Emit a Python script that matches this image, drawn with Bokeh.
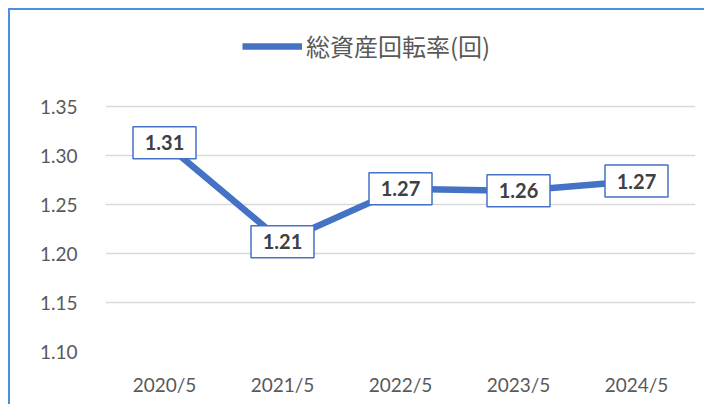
from bokeh.plotting import figure
from bokeh.models import (ColumnDataSource, FixedTicker, NumeralTickFormatter, Legend, LegendItem, Range1d)
from bokeh.core.properties import value
from bokeh.embed import file_html
from bokeh.resources import INLINE

# ---- data ----
periods = ["2020/5", "2021/5", "2022/5", "2023/5", "2024/5"]
turnover = [1.313, 1.212, 1.266, 1.264, 1.274]
y_ticks = [1.10, 1.15, 1.20, 1.25, 1.30, 1.35]
series_name = "総資産回転率(回)"

labels = [f"{v:.2f}" for v in turnover]
src = ColumnDataSource(dict(x=periods, y=turnover, lab=labels))

BLUE = "#4472c4"
GRAY = "#595959"

# frame extends above the top tick so the legend sits inside it (room for legend)
p = figure(x_range=periods, y_range=Range1d(1.10, 1.4378),
           width=696, height=396, output_backend="svg", toolbar_location=None,
           min_border_left=97, min_border_right=9, min_border_top=12, min_border_bottom=53)
p.margin = (8, 0, 0, 8)
p.outline_line_color = None
p.border_fill_color = None
p.background_fill_color = "white"
p.styles = {"box-shadow": "inset 2px 2px 0 #4a90e2"}

line = p.line("x", "y", source=src, line_color=BLUE, line_width=6.5, line_join="round")

p.rect("x", "y", width=63, height=32, width_units="screen", height_units="screen",
       source=src, fill_color="white", line_color=BLUE, line_width=1.5)
p.text("x", "y", text="lab", source=src, text_align="center", text_baseline="middle",
       text_font=value("Lato"), text_font_style="bold", text_font_size="20px",
       text_color="#404040")

# axes
p.yaxis.ticker = FixedTicker(ticks=y_ticks)
p.yaxis.formatter = NumeralTickFormatter(format="0.00")
for ax in (p.xaxis, p.yaxis):
    ax.axis_line_color = None
    ax.major_tick_line_color = None
    ax.minor_tick_line_color = None
    ax.major_label_text_font = "Lato"
    ax.major_label_text_font_size = "19px"
    ax.major_label_text_color = GRAY
p.yaxis.major_label_standoff = 22
p.xaxis.major_label_standoff = 15

p.xgrid.grid_line_color = None
p.ygrid.grid_line_color = "#d9d9d9"
p.ygrid.grid_line_width = 1.5

legend = Legend(items=[LegendItem(label=series_name, renderers=[line])],
                location=(137, 288), orientation="horizontal",
                label_text_font="Noto Sans CJK JP", label_text_font_size="24px",
                label_text_color=GRAY, glyph_width=60, glyph_height=26,
                label_standoff=4, border_line_color=None, background_fill_alpha=0,
                padding=0, margin=0)
p.add_layout(legend, "center")

open("out.html", "w").write(file_html(p, INLINE))
